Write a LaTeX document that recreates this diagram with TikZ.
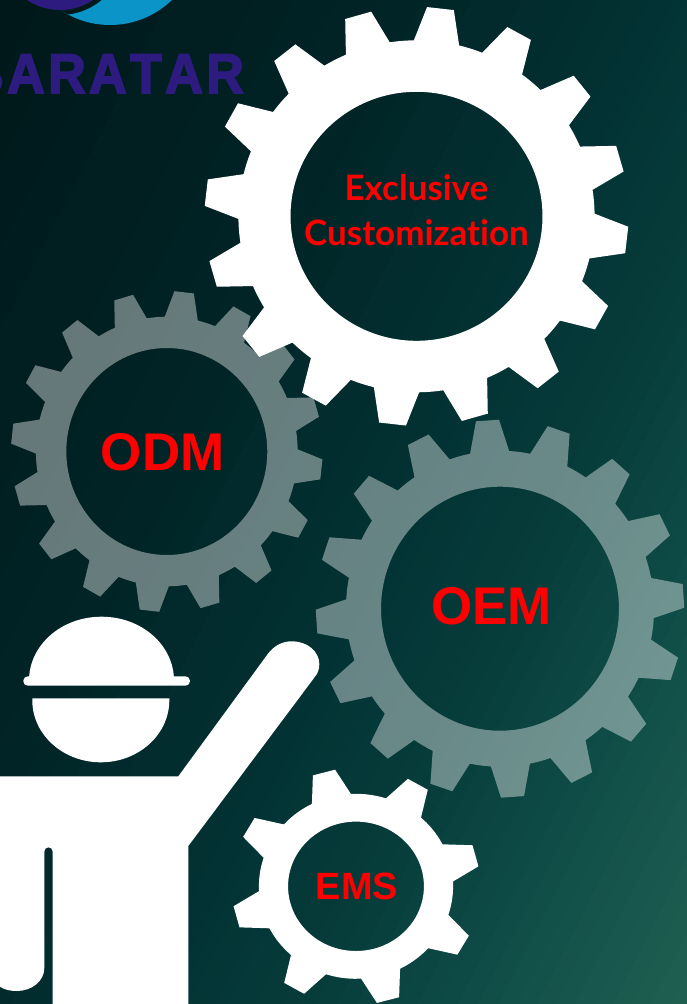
\documentclass[tikz,border=0pt]{standalone}
\usepackage{fontspec}
\setmainfont{Liberation Sans}
\newfontfamily\lato[Ligatures=NoCommon]{Lato}
\newfontfamily\logofont[Kerning=Off,FakeStretch=0.93,LetterSpace=6,BoldFeatures={FakeBold=3}]{Liberation Sans}
\definecolor{bga}{HTML}{00181A}
\definecolor{bgb}{HTML}{012628}
\definecolor{bgc}{HTML}{033435}
\definecolor{bgd}{HTML}{063C3A}
\definecolor{bge}{HTML}{12504A}
\definecolor{bgf}{HTML}{206151}
\definecolor{logopurple}{HTML}{2D1B80}
\definecolor{logoblue}{HTML}{0A94C8}
\definecolor{logogap}{HTML}{001A1C}
\tikzset{
  gearwhite/.style={fill=white,even odd rule},
  geargray/.style={fill=white,fill opacity=0.4,even odd rule},
  manpart/.style={fill=white},
  bigtext/.style={text=red,font=\fontsize{53}{53}\selectfont\bfseries,inner sep=0pt,anchor=base},
  smalltext/.style={text=red,font=\fontsize{38}{38}\selectfont\bfseries,inner sep=0pt,anchor=base},
  customtext/.style={text=red,font=\lato\fontsize{35}{45}\selectfont\bfseries,inner sep=0pt,align=center},
  logotext/.style={text=logopurple,font=\logofont\fontsize{56}{56}\selectfont\bfseries,inner sep=0pt,anchor=base west}
}
% #1 style, then cx,cy,xscale,teeth,phase,root,tip,base half angle,tip half angle,hole
\def\gearshape#1;#2,#3,#4,#5,#6,#7,#8,#9;{%
  \pgfmathsetmacro\gst{360/#5}%
  \pgfmathtruncatemacro\glast{#5-1}%
  \def\gph{#6}\def\grr{#7}\def\grt{#8}\def\ghb{#9}%
  \gearfinish{#1}{#2}{#3}{#4}}
\newcommand\gearfinish[6]{%
  \pgfmathsetmacro\ggap{(\gst-2*\ghb)/5}%
  \begin{scope}[shift={(#2,#3)},xscale=#4,yscale=-1]
    \path[#1] ({\gph-\ghb}:\grr)
      foreach \k in {0,...,\glast} {
        -- ({\gph+\k*\gst-\ghb}:\grr)
        -- ({\gph+\k*\gst-#5}:\grt)
        -- ({\gph+\k*\gst+#5}:\grt)
        -- ({\gph+\k*\gst+\ghb}:\grr)
        -- ({\gph+\k*\gst+\ghb+\ggap}:\grr)
        -- ({\gph+\k*\gst+\ghb+2*\ggap}:\grr)
        -- ({\gph+\k*\gst+\ghb+3*\ggap}:\grr)
        -- ({\gph+\k*\gst+\ghb+4*\ggap}:\grr)
      } -- cycle
      (0,0) circle [radius=#6];
  \end{scope}}
\begin{document}
\begin{tikzpicture}[x=1pt,y=-1pt]
\clip (0,0) rectangle (687,1004);
% background: linear gradient at 27 degrees, painted as half-planes from far to near
\fill[bga] (0,0) rectangle (687,1004);
\foreach \ta/\tb/\ca/\cb in {0/375/bga/bgb,375/600/bgb/bgc,600/720/bgc/bgd,720/900/bgd/bge,900/1070/bge/bgf} {
  \foreach \uu in {0,10,...,90} {
    \pgfmathsetmacro\tpos{\ta+(\tb-\ta)*0.01*\uu}
    \colorlet{stripcol}{\cb!\uu!\ca}
    \fill[stripcol] ({0.891*\tpos-908},{0.454*\tpos+1782})
      -- ({0.891*\tpos+908},{0.454*\tpos-1782})
      -- ({0.891*\tpos+908+1782},{0.454*\tpos-1782+908})
      -- ({0.891*\tpos-908+1782},{0.454*\tpos+1782+908}) -- cycle;
  }
}
% logo
\fill[logoblue] (110,-64) circle [radius=89];
\begin{scope}
  \clip (110,-64) circle [radius=89];
  \fill[logogap] (60,-50) circle [radius=65];
\end{scope}
\fill[logopurple] (60,-49.5) circle [radius=59.5];
\node[logotext] (logo) at (-34,93) {BARATAR};
% gears
\gearshape geargray;166.8,451.5,0.971,16,16.1,134.8,160.5,7.3;{3.6}{103.5}
\gearshape gearwhite;416.5,216.3,1.012,16,16,176,209.5,7.35;{3.65}{124.5}
\gearshape geargray;500,608.7,0.975,16,3.9,158,189,7.3;{3.6}{122}
\gearshape gearwhite;356,886.3,1.05,8,15,92.5,118.3,12;{5.3}{64.7}
% worker
\path[manpart] (29,680.7) .. controls (29,645.4) and (61,616.7) .. (101.5,616.7)
  .. controls (142,616.7) and (174,645.4) .. (174,680.7) -- cycle;
\path[manpart,rounded corners=4.5pt] (23.3,676.3) rectangle (190,685.7);
\path[manpart] (32.3,698.3) -- (169.3,698.3) -- (169.3,700.3)
  .. controls (169.3,734.5) and (138.6,762.3) .. (100.8,762.3)
  .. controls (63,762.3) and (32.3,734.5) .. (32.3,700.3) -- cycle;
\path[manpart] (0,776.3) -- (178.3,776.3) -- (268.3,653.3)
  .. controls (275,645) and (283,641.3) .. (291.7,641.3)
  .. controls (308,641.3) and (319.3,652) .. (319.3,664)
  .. controls (319.3,669) and (318,673) .. (315,676.7)
  -- (188.3,846) -- (188.3,1004) -- (52.7,1004) -- (52.7,851.5)
  .. controls (52.7,846) and (44.3,846) .. (44.3,851.5)
  -- (44.3,968) .. controls (44.3,981) and (32,991) .. (16.7,991)
  .. controls (10,991) and (4,989.5) .. (0,986.7) -- cycle;
% labels
\node[customtext] (custom) at (416.5,210) {Exclusive\\Customization};
\node[bigtext] (odm) at (162.8,470.7) {ODM};
\node[bigtext] (oem) at (491.5,624.3) {OEM};
\node[smalltext] (ems) at (357,899.3) {EMS};
\end{tikzpicture}
\end{document}
